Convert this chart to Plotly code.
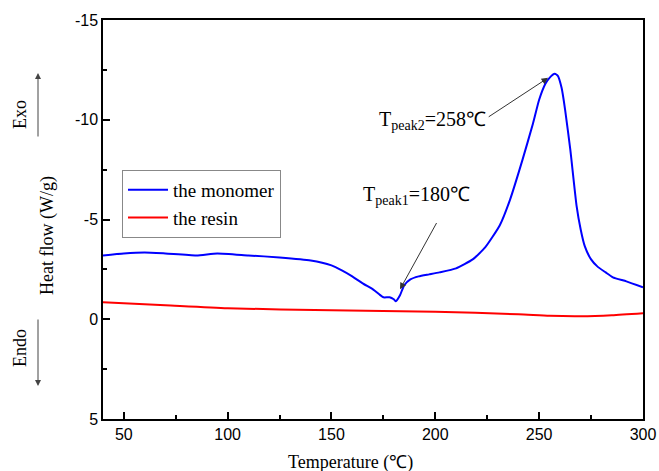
import plotly.graph_objects as go

# Data
mono_T = [40, 50, 60, 70, 85, 95, 110, 125, 140, 150, 155, 160, 165, 170, 173, 175, 178, 180, 181, 183,
          185, 188, 192, 197, 202, 210, 218, 224, 231, 236, 242, 247, 250, 253, 255, 257.5, 259,
          260.8, 262.5, 265, 268, 270, 272, 275, 278, 282, 285.5, 292, 300]
mono_HF = [-3.2, -3.3, -3.35, -3.3, -3.2, -3.3, -3.2, -3.1, -2.95, -2.7, -2.45, -2.15, -1.8, -1.5, -1.25,
           -1.1, -1.1, -1.0, -0.9, -1.2, -1.7, -2.0, -2.15, -2.25, -2.35, -2.55, -3.0, -3.6, -4.7, -6.0,
           -8.0, -9.8, -11.0, -11.8, -12.1, -12.3, -12.2, -11.6, -10.5, -8.5, -5.7, -4.5, -3.65, -3.0, -2.65,
           -2.35, -2.1, -1.9, -1.6]
resin_T = [40, 70, 100, 150, 200, 240, 255, 270, 285, 300]
resin_HF = [-0.85, -0.7, -0.55, -0.45, -0.38, -0.25, -0.17, -0.15, -0.2, -0.3]

x_ticks = [50, 100, 150, 200, 250, 300]
y_ticks = [-15, -10, -5, 0, 5]
y_ticktext = ["-15", "-10", "-5", "0", "5"]

serif = "Liberation Serif, Times New Roman, serif"
sans = "Liberation Sans, Arial, sans-serif"

fig = go.Figure()
fig.add_trace(go.Scatter(x=mono_T, y=mono_HF, mode="lines", name="the monomer",
                         line=dict(color="#0000ff", width=2, shape="spline", smoothing=0.5)))
fig.add_trace(go.Scatter(x=resin_T, y=resin_HF, mode="lines", name="the resin",
                         line=dict(color="#ff0000", width=2, shape="spline", smoothing=0.6)))

axis_common = dict(showline=True, linecolor="black", linewidth=1.5, mirror=True,
                   ticks="inside", ticklen=7, tickcolor="black", tickwidth=1.5,
                   showgrid=False, zeroline=False, automargin=False,
                   tickfont=dict(family=sans, size=16, color="black"))

fig.update_xaxes(range=[40, 300], tickvals=x_ticks,
                 minor=dict(ticks="inside", ticklen=4, tickcolor="black", dtick=25, tick0=25, tickwidth=1.5),
                 **axis_common)
fig.update_yaxes(range=[5, -15], tickvals=y_ticks, ticktext=y_ticktext,
                 minor=dict(ticks="inside", ticklen=4, tickcolor="black", dtick=2.5, tick0=-12.5, tickwidth=1.5),
                 **axis_common)

def px_x(p):
    return (p - 103) / 540

def px_y(p):
    return (419 - p) / 399

tfont = dict(family=serif, size=18, color="black")
anns = []
# axis titles
anns.append(dict(xref="paper", yref="paper", x=px_x(47), y=px_y(236), xanchor="center", yanchor="middle",
                 text="Heat flow (W/g)", textangle=-90, showarrow=False, font=tfont))
anns.append(dict(xref="paper", yref="paper", x=px_x(350), y=px_y(462), xanchor="center", yanchor="middle",
                 text="Temperature (℃)", showarrow=False, font=tfont))
# Exo / Endo labels and arrows
anns.append(dict(xref="paper", yref="paper", x=px_x(20), y=px_y(115), xanchor="center", yanchor="middle",
                 text="Exo", textangle=-90, showarrow=False, font=tfont))
anns.append(dict(xref="paper", yref="paper", x=px_x(20), y=px_y(348), xanchor="center", yanchor="middle",
                 text="Endo", textangle=-90, showarrow=False, font=tfont))
anns.append(dict(xref="paper", yref="paper", x=px_x(38), y=px_y(73),
                 text="", showarrow=True, ax=0, ay=65, arrowhead=2, arrowsize=1.2,
                 arrowwidth=1, arrowcolor="#444"))
anns.append(dict(xref="paper", yref="paper", x=px_x(38), y=px_y(386),
                 text="", showarrow=True, ax=0, ay=-68, arrowhead=2, arrowsize=1.2,
                 arrowwidth=1, arrowcolor="#444"))
# Peak annotations
anns.append(dict(x=254.3, y=-12.1, xref="x", yref="y", axref="x", ayref="y", ax=225, ay=-10.1,
                 text="", showarrow=True, arrowhead=2, arrowsize=1.3, arrowwidth=1, arrowcolor="#333"))
anns.append(dict(x=183, y=-1.5, xref="x", yref="y", axref="x", ayref="y", ax=201, ay=-4.9,
                 text="", showarrow=True, arrowhead=2, arrowsize=1.3, arrowwidth=1, arrowcolor="#333"))
anns.append(dict(x=40 + (377 - 103) / 2.077, y=(121 - 320) / 19.95, xref="x", yref="y",
                 xanchor="left", yanchor="middle", showarrow=False,
                 text="T<sub>peak2</sub>=258℃", font=dict(family=serif, size=20, color="black")))
anns.append(dict(x=40 + (361 - 103) / 2.077, y=(196 - 320) / 19.95, xref="x", yref="y",
                 xanchor="left", yanchor="middle", showarrow=False,
                 text="T<sub>peak1</sub>=180℃", font=dict(family=serif, size=20, color="black")))

fig.update_layout(
    width=659, height=471,
    margin=dict(l=103, r=16, t=20, b=52),
    plot_bgcolor="white", paper_bgcolor="white",
    annotations=anns,
    legend=dict(x=px_x(122), y=px_y(170), xanchor="left", yanchor="top",
                bordercolor="#888", borderwidth=1, bgcolor="white",
                font=dict(family=serif, size=19, color="black"),
                tracegroupgap=0, itemwidth=40),
    showlegend=True,
)

fig.write_html("out.html")
